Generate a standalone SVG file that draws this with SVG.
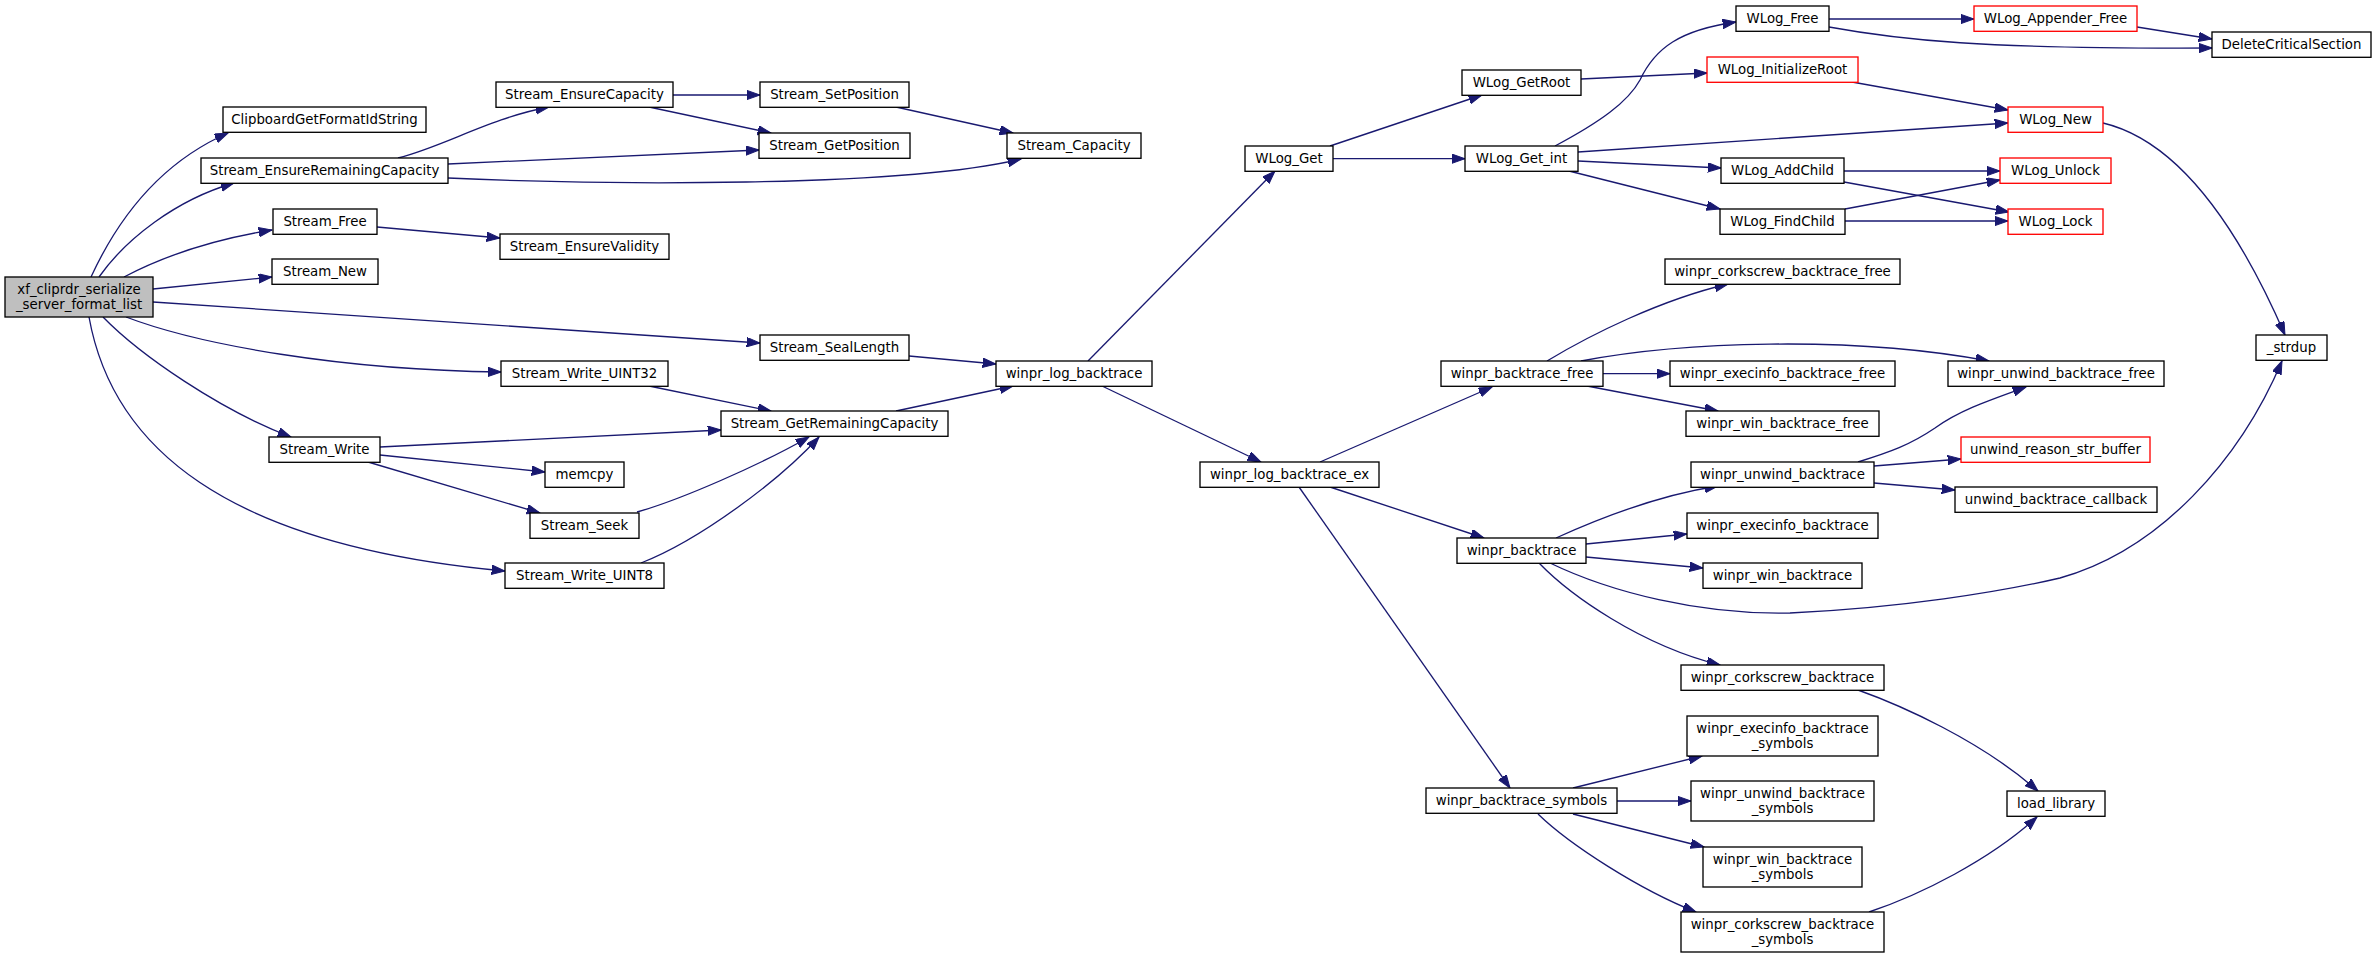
<svg xmlns="http://www.w3.org/2000/svg" width="2376" height="958" viewBox="0 0 2376 958">
<style>
.n rect{fill:#ffffff;stroke:#000000;stroke-width:1.33}
.n.r rect{stroke:#ff0000}
.n.m rect{fill:#bfbfbf}
.n text{font-family:"DejaVu Sans","Liberation Sans",sans-serif;font-size:13.33px;fill:#000000;text-anchor:middle}
.e path{fill:none;stroke:#191970;stroke-width:1.33;marker-end:url(#ah)}
</style>
<defs>
<marker id="ah" markerUnits="userSpaceOnUse" markerWidth="14" markerHeight="10" refX="13.3" refY="4.7" orient="auto">
<path d="M0,0 L13.3,4.7 L0,9.4 Z" fill="#191970" stroke="#191970" stroke-width="1"/>
</marker>
</defs>
<rect x="0" y="0" width="2376" height="958" fill="#ffffff"/>
<g id="edges" class="e">
<path d="M91,277 C115,225 155,165 228,133"/>
<path d="M99,277 C125,240 175,200 234,183"/>
<path d="M124,277 C160,258 210,240 272,230"/>
<path d="M153,289 L272,277"/>
<path d="M153,302 L760,343"/>
<path d="M126,317 C200,345 340,370 501,372"/>
<path d="M103,317 C140,355 220,410 291,437"/>
<path d="M89,317 C112,445 222,545 505,571"/>
<path d="M398,158 C445,146 490,118 549,107"/>
<path d="M448,164 L759,150"/>
<path d="M448,178 C600,185 900,188 1021,159"/>
<path d="M673,95 L760,95"/>
<path d="M649,107 L771,133"/>
<path d="M896,107 L1013,133"/>
<path d="M377,227 L500,238"/>
<path d="M909,356 L996,364"/>
<path d="M649,386 L771,411"/>
<path d="M896,411 L1013,386"/>
<path d="M380,447 L721,430"/>
<path d="M380,455 L545,472"/>
<path d="M368,462 L540,513"/>
<path d="M637,512 C680,500 760,465 809,437"/>
<path d="M641,563 C700,540 780,480 819,437"/>
<path d="M1088,361 L1275,171"/>
<path d="M1102,386 L1261,462"/>
<path d="M1330,146 L1482,95"/>
<path d="M1333,158.7 L1465,158.7"/>
<path d="M1581,79 L1707,73"/>
<path d="M1555,146 C1600,122 1628,102 1640,80 C1655,48 1680,30 1736,22"/>
<path d="M1578,152 L2008,123"/>
<path d="M1578,161 L1721,168"/>
<path d="M1569,171 L1720,209"/>
<path d="M1829,19 L1974,19"/>
<path d="M1829,27 C1900,40 1980,49 2212,48"/>
<path d="M2137,27 L2212,39"/>
<path d="M1852,82 L2008,110"/>
<path d="M2103,123 C2175,140 2235,220 2285,335"/>
<path d="M1844,171 L2000,171"/>
<path d="M1844,182 L2009,212"/>
<path d="M1845,209 L2000,180"/>
<path d="M1845,221 L2008,221"/>
<path d="M1547,361 C1590,335 1660,300 1728,284"/>
<path d="M1581,361 C1680,342 1850,335 1989,361"/>
<path d="M1603,373.7 L1670,373.7"/>
<path d="M1587,386 L1718,411"/>
<path d="M1320,462 L1492,387"/>
<path d="M1330,487 L1484,538"/>
<path d="M1299,487 L1510,788"/>
<path d="M1556,538 C1600,518 1660,495 1718,486"/>
<path d="M1586,544 L1687,534"/>
<path d="M1586,557 L1703,568"/>
<path d="M1550,563 C1610,592 1700,615 1790,613 C1900,608 2000,592 2060,578 C2160,550 2240,460 2282,361"/>
<path d="M1539,563 C1570,595 1640,645 1720,665"/>
<path d="M1858,462 C1890,452 1910,445 1935,428 C1960,410 1990,400 2026,387"/>
<path d="M1874,466 L1961,459"/>
<path d="M1874,483 L1955,490"/>
<path d="M1858,690 C1900,705 1980,740 2038,791"/>
<path d="M1869,912 C1920,895 1990,860 2037,817"/>
<path d="M1573,788 L1702,756"/>
<path d="M1617,801 L1691,801"/>
<path d="M1573,814 L1704,847"/>
<path d="M1538,814 C1570,845 1640,890 1696,912"/>
</g>
<g id="n_main" class="n m"><rect x="5" y="277" width="148" height="40"/><text x="79" y="293.8">xf_cliprdr_serialize</text><text x="79" y="308.8">_server_format_list</text></g>
<g id="n_clip" class="n"><rect x="223" y="107" width="203" height="25.3"/><text x="324.5" y="124.3">ClipboardGetFormatIdString</text></g>
<g id="n_erc" class="n"><rect x="201" y="158" width="247" height="25.3"/><text x="324.5" y="175.3">Stream_EnsureRemainingCapacity</text></g>
<g id="n_free" class="n"><rect x="273" y="209" width="104" height="25.3"/><text x="325" y="226.3">Stream_Free</text></g>
<g id="n_new" class="n"><rect x="272" y="259" width="106" height="25.3"/><text x="325" y="276.3">Stream_New</text></g>
<g id="n_write" class="n"><rect x="269" y="437" width="111" height="25.3"/><text x="324.5" y="454.3">Stream_Write</text></g>
<g id="n_ecap" class="n"><rect x="496" y="82" width="177" height="25.3"/><text x="584.5" y="99.3">Stream_EnsureCapacity</text></g>
<g id="n_eval" class="n"><rect x="500" y="234" width="169" height="25.3"/><text x="584.5" y="251.3">Stream_EnsureValidity</text></g>
<g id="n_u32" class="n"><rect x="501" y="361" width="167" height="25.3"/><text x="584.5" y="378.3">Stream_Write_UINT32</text></g>
<g id="n_memcpy" class="n"><rect x="545" y="462" width="79" height="25.3"/><text x="584.5" y="479.3">memcpy</text></g>
<g id="n_seek" class="n"><rect x="530" y="513" width="109" height="25.3"/><text x="584.5" y="530.3">Stream_Seek</text></g>
<g id="n_u8" class="n"><rect x="505" y="563" width="159" height="25.3"/><text x="584.5" y="580.3">Stream_Write_UINT8</text></g>
<g id="n_setpos" class="n"><rect x="760" y="82" width="149" height="25.3"/><text x="834.5" y="99.3">Stream_SetPosition</text></g>
<g id="n_getpos" class="n"><rect x="759" y="133" width="151" height="25.3"/><text x="834.5" y="150.3">Stream_GetPosition</text></g>
<g id="n_seal" class="n"><rect x="760" y="335" width="149" height="25.3"/><text x="834.5" y="352.3">Stream_SealLength</text></g>
<g id="n_grc" class="n"><rect x="721" y="411" width="227" height="25.3"/><text x="834.5" y="428.3">Stream_GetRemainingCapacity</text></g>
<g id="n_cap" class="n"><rect x="1007" y="133" width="134" height="25.3"/><text x="1074" y="150.3">Stream_Capacity</text></g>
<g id="n_logbt" class="n"><rect x="996" y="361" width="156" height="25.3"/><text x="1074" y="378.3">winpr_log_backtrace</text></g>
<g id="n_wlogget" class="n"><rect x="1245" y="146" width="88" height="25.3"/><text x="1289" y="163.3">WLog_Get</text></g>
<g id="n_logbtex" class="n"><rect x="1200" y="462" width="179" height="25.3"/><text x="1289.5" y="479.3">winpr_log_backtrace_ex</text></g>
<g id="n_getroot" class="n"><rect x="1462" y="70" width="119" height="25.3"/><text x="1521.5" y="87.3">WLog_GetRoot</text></g>
<g id="n_getint" class="n"><rect x="1465" y="146" width="113" height="25.3"/><text x="1521.5" y="163.3">WLog_Get_int</text></g>
<g id="n_btfree" class="n"><rect x="1441" y="361" width="162" height="25.3"/><text x="1522" y="378.3">winpr_backtrace_free</text></g>
<g id="n_bt" class="n"><rect x="1457" y="538" width="129" height="25.3"/><text x="1521.5" y="555.3">winpr_backtrace</text></g>
<g id="n_btsym" class="n"><rect x="1426" y="788" width="191" height="25.3"/><text x="1521.5" y="805.3">winpr_backtrace_symbols</text></g>
<g id="n_wlogfree" class="n"><rect x="1736" y="6" width="93" height="25.3"/><text x="1782.5" y="23.3">WLog_Free</text></g>
<g id="n_initroot" class="n r"><rect x="1707" y="57" width="151" height="25.3"/><text x="1782.5" y="74.3">WLog_InitializeRoot</text></g>
<g id="n_addchild" class="n"><rect x="1721" y="158" width="123" height="25.3"/><text x="1782.5" y="175.3">WLog_AddChild</text></g>
<g id="n_findchild" class="n"><rect x="1720" y="209" width="125" height="25.3"/><text x="1782.5" y="226.3">WLog_FindChild</text></g>
<g id="n_cbtfree" class="n"><rect x="1665" y="259" width="235" height="25.3"/><text x="1782.5" y="276.3">winpr_corkscrew_backtrace_free</text></g>
<g id="n_ebtfree" class="n"><rect x="1670" y="361" width="225" height="25.3"/><text x="1782.5" y="378.3">winpr_execinfo_backtrace_free</text></g>
<g id="n_wbtfree" class="n"><rect x="1686" y="411" width="193" height="25.3"/><text x="1782.5" y="428.3">winpr_win_backtrace_free</text></g>
<g id="n_ubt" class="n"><rect x="1691" y="462" width="183" height="25.3"/><text x="1782.5" y="479.3">winpr_unwind_backtrace</text></g>
<g id="n_ebt" class="n"><rect x="1687" y="513" width="191" height="25.3"/><text x="1782.5" y="530.3">winpr_execinfo_backtrace</text></g>
<g id="n_wbt" class="n"><rect x="1703" y="563" width="159" height="25.3"/><text x="1782.5" y="580.3">winpr_win_backtrace</text></g>
<g id="n_cbt" class="n"><rect x="1681" y="665" width="203" height="25.3"/><text x="1782.5" y="682.3">winpr_corkscrew_backtrace</text></g>
<g id="n_ebtsym" class="n"><rect x="1687" y="716" width="191" height="40"/><text x="1782.5" y="733">winpr_execinfo_backtrace</text><text x="1782.5" y="748">_symbols</text></g>
<g id="n_ubtsym" class="n"><rect x="1691" y="781" width="183" height="40"/><text x="1782.5" y="798">winpr_unwind_backtrace</text><text x="1782.5" y="813">_symbols</text></g>
<g id="n_wbtsym" class="n"><rect x="1703" y="847" width="159" height="40"/><text x="1782.5" y="864">winpr_win_backtrace</text><text x="1782.5" y="879">_symbols</text></g>
<g id="n_cbtsym" class="n"><rect x="1681" y="912" width="203" height="40"/><text x="1782.5" y="929">winpr_corkscrew_backtrace</text><text x="1782.5" y="944">_symbols</text></g>
<g id="n_appfree" class="n r"><rect x="1974" y="6" width="163" height="25.3"/><text x="2055.5" y="23.3">WLog_Appender_Free</text></g>
<g id="n_wlognew" class="n r"><rect x="2008" y="107" width="95" height="25.3"/><text x="2055.5" y="124.3">WLog_New</text></g>
<g id="n_unlock" class="n r"><rect x="2000" y="158" width="111" height="25.3"/><text x="2055.5" y="175.3">WLog_Unlock</text></g>
<g id="n_lock" class="n r"><rect x="2008" y="209" width="95" height="25.3"/><text x="2055.5" y="226.3">WLog_Lock</text></g>
<g id="n_ubtfree" class="n"><rect x="1948" y="361" width="216" height="25.3"/><text x="2056" y="378.3">winpr_unwind_backtrace_free</text></g>
<g id="n_ursb" class="n r"><rect x="1961" y="437" width="189" height="25.3"/><text x="2055.5" y="454.3">unwind_reason_str_buffer</text></g>
<g id="n_ubcb" class="n"><rect x="1955" y="487" width="202" height="25.3"/><text x="2056" y="504.3">unwind_backtrace_callback</text></g>
<g id="n_loadlib" class="n"><rect x="2007" y="791" width="98" height="25.3"/><text x="2056" y="808.3">load_library</text></g>
<g id="n_delcs" class="n"><rect x="2212" y="32" width="159" height="25.3"/><text x="2291.5" y="49.3">DeleteCriticalSection</text></g>
<g id="n_strdup" class="n"><rect x="2256" y="335" width="71" height="25.3"/><text x="2291.5" y="352.3">_strdup</text></g>
</svg>
